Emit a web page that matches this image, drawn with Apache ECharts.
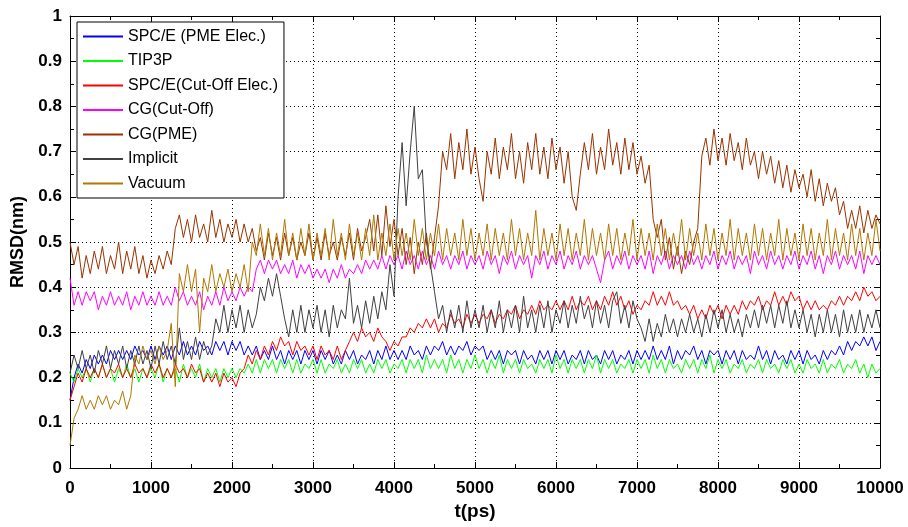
<!doctype html>
<html>
<head>
<meta charset="utf-8">
<title>RMSD</title>
<script src="https://cdn.jsdelivr.net/npm/echarts@6/dist/echarts.min.js"></script>
<style>
    html, body {margin: 0; padding: 0; background: #fff;}
    #chart {width: 908px; height: 527px;}
</style>
</head>
<body>
<div id="chart"></div>
<script type="text/javascript">
    // sampled every 50 ps, 0 .. 10000
    var STEP = 50;
    var seriesNames = ['SPC/E (PME Elec.)', 'TIP3P', 'SPC/E(Cut-Off Elec.)', 'CG(Cut-Off)', 'CG(PME)', 'Implicit', 'Vacuum'];
    var xTicks = [0, 1000, 2000, 3000, 4000, 5000, 6000, 7000, 8000, 9000, 10000];
    var yTicks = [0, 0.1, 0.2, 0.3, 0.4, 0.5, 0.6, 0.7, 0.8, 0.9, 1];

    var spcePme = [
        0.15,0.20,0.23,0.21,0.24,0.22,0.25,0.23,0.25,0.23,0.26,0.24,0.26,0.24,0.26,0.24,0.27,0.25,0.26,0.24,0.27,
        0.24,0.27,0.25,0.27,0.24,0.27,0.25,0.28,0.25,0.27,0.25,0.28,0.26,0.27,0.25,0.28,0.26,0.28,0.25,0.28,
        0.26,0.28,0.25,0.27,0.25,0.27,0.24,0.26,0.24,0.27,0.24,0.26,0.23,0.26,0.24,0.26,0.23,0.26,0.24,0.26,
        0.23,0.26,0.24,0.26,0.23,0.25,0.23,0.26,0.24,0.26,0.23,0.25,0.24,0.26,0.23,0.26,0.24,0.27,0.24,0.26,
        0.24,0.26,0.24,0.27,0.25,0.26,0.24,0.27,0.25,0.27,0.26,0.28,0.25,0.27,0.25,0.27,0.26,0.28,0.25,0.27,
        0.26,0.27,0.24,0.26,0.24,0.26,0.23,0.26,0.25,0.26,0.23,0.26,0.24,0.25,0.23,0.26,0.24,0.26,0.23,0.26,
        0.24,0.26,0.23,0.25,0.24,0.26,0.23,0.26,0.24,0.25,0.23,0.26,0.24,0.26,0.23,0.25,0.24,0.26,0.23,0.26,
        0.24,0.26,0.24,0.27,0.24,0.26,0.24,0.27,0.23,0.26,0.24,0.26,0.25,0.27,0.24,0.26,0.23,0.26,0.25,0.26,
        0.23,0.26,0.24,0.26,0.23,0.26,0.24,0.25,0.24,0.27,0.24,0.26,0.23,0.26,0.24,0.25,0.23,0.26,0.24,0.26,
        0.23,0.26,0.24,0.25,0.23,0.26,0.24,0.26,0.25,0.27,0.25,0.28,0.26,0.28,0.27,0.29,0.27,0.29,0.26,0.28
    ];
    var tip3p = [
        0.21,0.19,0.22,0.20,0.22,0.19,0.22,0.20,0.23,0.20,0.22,0.19,0.22,0.20,0.23,0.20,0.22,0.19,0.22,0.20,0.22,
        0.20,0.23,0.19,0.22,0.20,0.22,0.19,0.23,0.20,0.22,0.20,0.23,0.19,0.22,0.20,0.22,0.19,0.22,0.20,0.22,
        0.20,0.22,0.21,0.23,0.21,0.24,0.21,0.24,0.22,0.24,0.21,0.24,0.22,0.24,0.21,0.24,0.21,0.23,0.22,0.24,
        0.21,0.24,0.21,0.23,0.22,0.24,0.21,0.23,0.21,0.24,0.22,0.24,0.21,0.23,0.21,0.24,0.22,0.24,0.21,0.23,
        0.22,0.24,0.21,0.24,0.22,0.24,0.21,0.25,0.22,0.24,0.22,0.24,0.21,0.25,0.22,0.24,0.21,0.24,0.22,0.25,
        0.22,0.24,0.21,0.24,0.22,0.25,0.21,0.24,0.22,0.24,0.21,0.24,0.22,0.23,0.21,0.24,0.22,0.24,0.21,0.25,
        0.22,0.24,0.21,0.24,0.22,0.24,0.21,0.24,0.22,0.25,0.21,0.24,0.22,0.24,0.21,0.23,0.22,0.24,0.21,0.24,
        0.22,0.24,0.21,0.25,0.22,0.24,0.21,0.24,0.22,0.23,0.21,0.24,0.22,0.24,0.21,0.24,0.22,0.25,0.21,0.24,
        0.22,0.24,0.21,0.23,0.22,0.24,0.21,0.23,0.22,0.24,0.21,0.24,0.22,0.23,0.21,0.24,0.22,0.24,0.21,0.23,
        0.21,0.24,0.22,0.23,0.21,0.24,0.21,0.23,0.22,0.24,0.21,0.23,0.22,0.24,0.21,0.23,0.20,0.23,0.21,0.22
    ];
    var spceCut = [
        0.15,0.18,0.21,0.19,0.22,0.20,0.22,0.20,0.23,0.20,0.22,0.21,0.23,0.20,0.22,0.20,0.23,0.21,0.22,0.20,0.23,
        0.21,0.23,0.20,0.22,0.20,0.23,0.21,0.22,0.20,0.23,0.21,0.22,0.19,0.21,0.19,0.21,0.18,0.21,0.19,0.20,
        0.18,0.21,0.22,0.25,0.23,0.26,0.24,0.27,0.25,0.28,0.26,0.29,0.27,0.28,0.25,0.28,0.26,0.27,0.25,0.27,
        0.24,0.27,0.25,0.26,0.24,0.27,0.24,0.26,0.28,0.30,0.28,0.31,0.29,0.30,0.28,0.31,0.29,0.28,0.26,0.28,
        0.27,0.29,0.29,0.31,0.30,0.32,0.31,0.33,0.31,0.33,0.30,0.32,0.31,0.34,0.32,0.33,0.31,0.34,0.32,0.34,
        0.32,0.34,0.33,0.35,0.32,0.34,0.33,0.35,0.34,0.36,0.33,0.35,0.34,0.36,0.34,0.37,0.35,0.36,0.35,0.37,
        0.35,0.37,0.35,0.38,0.35,0.37,0.36,0.38,0.35,0.37,0.35,0.38,0.36,0.39,0.36,0.38,0.35,0.37,0.34,0.36,
        0.35,0.37,0.36,0.39,0.36,0.38,0.36,0.39,0.36,0.37,0.35,0.36,0.34,0.36,0.33,0.35,0.33,0.36,0.34,0.36,
        0.33,0.36,0.34,0.36,0.34,0.37,0.35,0.37,0.36,0.38,0.35,0.37,0.36,0.39,0.36,0.38,0.36,0.39,0.37,0.38,
        0.35,0.37,0.35,0.37,0.35,0.36,0.35,0.37,0.36,0.38,0.36,0.38,0.37,0.39,0.37,0.40,0.38,0.39,0.37,0.38
    ];
    var cgCut = [
        0.42,0.36,0.39,0.36,0.39,0.37,0.39,0.35,0.38,0.36,0.39,0.36,0.38,0.36,0.39,0.35,0.38,0.36,0.39,0.36,0.38,
        0.36,0.39,0.36,0.38,0.36,0.40,0.37,0.39,0.36,0.38,0.36,0.39,0.35,0.38,0.36,0.39,0.36,0.40,0.37,0.39,
        0.37,0.40,0.38,0.40,0.39,0.44,0.46,0.43,0.46,0.44,0.46,0.43,0.45,0.43,0.46,0.42,0.45,0.43,0.45,0.42,
        0.44,0.42,0.44,0.41,0.44,0.42,0.45,0.42,0.44,0.43,0.45,0.43,0.46,0.44,0.46,0.44,0.47,0.44,0.47,0.45,
        0.47,0.44,0.48,0.45,0.47,0.44,0.48,0.45,0.47,0.44,0.48,0.45,0.47,0.44,0.47,0.45,0.48,0.44,0.47,0.45,
        0.47,0.44,0.48,0.45,0.47,0.43,0.47,0.45,0.48,0.44,0.47,0.45,0.47,0.42,0.47,0.45,0.48,0.44,0.47,0.45,
        0.48,0.44,0.47,0.45,0.48,0.44,0.47,0.45,0.47,0.44,0.41,0.46,0.48,0.44,0.47,0.45,0.48,0.44,0.47,0.45,
        0.47,0.44,0.48,0.43,0.47,0.45,0.48,0.44,0.47,0.45,0.47,0.44,0.48,0.45,0.47,0.44,0.47,0.45,0.48,0.44,
        0.47,0.45,0.48,0.44,0.47,0.45,0.47,0.43,0.48,0.45,0.47,0.44,0.48,0.45,0.47,0.44,0.47,0.45,0.48,0.44,
        0.47,0.45,0.48,0.44,0.47,0.43,0.47,0.45,0.48,0.44,0.47,0.45,0.47,0.44,0.48,0.43,0.47,0.45,0.47,0.45
    ];
    var cgPme = [
        0.50,0.45,0.49,0.42,0.47,0.43,0.48,0.44,0.49,0.43,0.47,0.44,0.50,0.43,0.48,0.44,0.49,0.43,0.47,0.42,0.46,
        0.43,0.47,0.44,0.48,0.45,0.53,0.56,0.51,0.55,0.50,0.56,0.51,0.54,0.50,0.57,0.51,0.55,0.50,0.54,0.51,
        0.55,0.50,0.54,0.50,0.53,0.48,0.51,0.46,0.52,0.47,0.51,0.46,0.52,0.47,0.51,0.46,0.50,0.47,0.52,0.46,
        0.51,0.46,0.52,0.47,0.50,0.46,0.51,0.47,0.52,0.46,0.53,0.48,0.51,0.55,0.48,0.56,0.47,0.58,0.49,0.55,
        0.47,0.53,0.45,0.51,0.43,0.50,0.45,0.52,0.44,0.51,0.58,0.70,0.66,0.74,0.64,0.72,0.66,0.75,0.65,0.71,
        0.64,0.59,0.70,0.65,0.73,0.64,0.71,0.66,0.74,0.64,0.70,0.63,0.72,0.66,0.74,0.65,0.71,0.64,0.73,0.66,
        0.71,0.63,0.70,0.60,0.57,0.65,0.72,0.66,0.74,0.65,0.71,0.66,0.75,0.67,0.72,0.65,0.73,0.66,0.72,0.65,
        0.69,0.63,0.67,0.55,0.51,0.55,0.46,0.51,0.44,0.49,0.43,0.48,0.45,0.50,0.53,0.69,0.73,0.67,0.75,0.68,
        0.73,0.67,0.74,0.68,0.72,0.66,0.73,0.67,0.70,0.64,0.70,0.65,0.69,0.63,0.68,0.62,0.67,0.61,0.66,0.62,
        0.65,0.60,0.66,0.59,0.64,0.58,0.63,0.59,0.62,0.56,0.59,0.53,0.57,0.53,0.58,0.52,0.57,0.53,0.56,0.54
    ];
    var implicit = [
        0.21,0.25,0.22,0.26,0.22,0.25,0.21,0.26,0.23,0.27,0.22,0.26,0.23,0.27,0.22,0.26,0.23,0.27,0.23,0.26,0.22,
        0.27,0.23,0.28,0.24,0.27,0.23,0.31,0.24,0.28,0.24,0.29,0.24,0.28,0.25,0.27,0.33,0.30,0.36,0.30,0.35,
        0.31,0.36,0.30,0.35,0.31,0.34,0.40,0.37,0.42,0.38,0.43,0.38,0.33,0.29,0.35,0.30,0.36,0.30,0.35,0.31,
        0.36,0.30,0.35,0.29,0.36,0.31,0.35,0.33,0.42,0.32,0.36,0.31,0.37,0.32,0.38,0.33,0.39,0.35,0.45,0.38,
        0.60,0.72,0.58,0.70,0.80,0.64,0.66,0.50,0.45,0.39,0.33,0.36,0.30,0.35,0.31,0.36,0.30,0.37,0.31,0.35,
        0.31,0.36,0.30,0.35,0.31,0.37,0.30,0.35,0.31,0.36,0.30,0.38,0.31,0.35,0.30,0.36,0.31,0.37,0.30,0.35,
        0.32,0.37,0.31,0.36,0.32,0.38,0.33,0.36,0.31,0.37,0.32,0.36,0.31,0.37,0.39,0.32,0.36,0.31,0.37,0.33,
        0.31,0.28,0.33,0.28,0.32,0.29,0.34,0.30,0.33,0.29,0.33,0.30,0.34,0.30,0.33,0.29,0.34,0.30,0.35,0.31,
        0.35,0.30,0.34,0.30,0.33,0.29,0.34,0.31,0.35,0.31,0.36,0.32,0.36,0.31,0.36,0.32,0.37,0.31,0.35,0.31,
        0.35,0.30,0.34,0.29,0.34,0.30,0.35,0.30,0.34,0.29,0.35,0.30,0.34,0.30,0.35,0.30,0.34,0.31,0.35,0.31
    ];
    var vacuum = [
        0.05,0.11,0.13,0.16,0.13,0.15,0.13,0.16,0.14,0.16,0.13,0.15,0.14,0.17,0.13,0.16,0.25,0.23,0.27,0.24,0.26,
        0.23,0.27,0.24,0.26,0.32,0.18,0.43,0.39,0.45,0.39,0.44,0.30,0.42,0.39,0.45,0.39,0.43,0.40,0.44,0.39,
        0.43,0.40,0.45,0.39,0.50,0.47,0.54,0.47,0.53,0.46,0.52,0.47,0.55,0.47,0.52,0.46,0.53,0.47,0.54,0.46,
        0.52,0.47,0.53,0.46,0.55,0.47,0.52,0.46,0.54,0.47,0.52,0.46,0.53,0.47,0.56,0.46,0.52,0.47,0.54,0.46,
        0.53,0.47,0.52,0.46,0.55,0.47,0.53,0.46,0.52,0.47,0.54,0.46,0.53,0.47,0.52,0.46,0.55,0.47,0.53,0.46,
        0.52,0.47,0.54,0.46,0.53,0.47,0.52,0.46,0.55,0.47,0.53,0.46,0.52,0.47,0.57,0.46,0.53,0.47,0.52,0.46,
        0.54,0.47,0.53,0.46,0.52,0.47,0.55,0.46,0.53,0.47,0.52,0.46,0.54,0.47,0.53,0.46,0.52,0.47,0.55,0.46,
        0.53,0.47,0.52,0.46,0.54,0.47,0.53,0.46,0.52,0.47,0.55,0.46,0.53,0.47,0.52,0.46,0.54,0.47,0.53,0.46,
        0.52,0.47,0.55,0.46,0.53,0.47,0.52,0.46,0.54,0.47,0.53,0.46,0.52,0.47,0.55,0.46,0.53,0.47,0.52,0.46,
        0.54,0.47,0.53,0.46,0.52,0.47,0.55,0.46,0.53,0.47,0.52,0.46,0.54,0.47,0.53,0.46,0.52,0.47,0.55,0.48
    ];

    var allValues = [spcePme, tip3p, spceCut, cgCut, cgPme, implicit, vacuum];
    var colors = ['#0000ff', '#00ff00', '#ff0000', '#ff00ff', '#993300', '#404040', '#b07800'];

    function pairs(vals) {
        var out = [];
        for (var i = 0; i < vals.length; i++) {
            out.push([i * STEP, vals[i]]);
        }
        return out;
    }

    var font = 'Liberation Sans';
    var series = [];
    for (var k = 0; k < seriesNames.length; k++) {
        series.push({
            name: seriesNames[k],
            type: 'line',
            data: pairs(allValues[k]),
            symbol: 'none',
            silent: true,
            lineStyle: {color: colors[k], width: 1},
            itemStyle: {color: colors[k]}
        });
    }

    var tickStyle = {show: true, inside: true, length: 6, lineStyle: {color: '#000'}};
    var minorStyle = {show: true, splitNumber: 2, length: 4, lineStyle: {color: '#000'}};
    var gridLine = {show: true, lineStyle: {color: '#000', type: [1, 3], width: 1}};

    var myChart = echarts.init(document.getElementById('chart'));
    var option = {
        animation: false,
        backgroundColor: '#fff',
        grid: {left: 70, right: 28, top: 16, bottom: 59},
        legend: {
            orient: 'vertical',
            left: 77,
            top: 22,
            padding: [6, 6, 6, 6],
            icon: 'rect',
            itemWidth: 40,
            itemHeight: 2,
            itemGap: 7.5,
            backgroundColor: '#fff',
            borderColor: '#000',
            borderWidth: 1,
            borderRadius: 0,
            data: seriesNames,
            textStyle: {fontFamily: font, fontSize: 16, lineHeight: 17, color: '#000'}
        },
        xAxis: [
            {
                type: 'value', position: 'bottom', min: 0, max: 10000, interval: 1000,
                axisLine: {show: true, lineStyle: {color: '#000'}},
                axisTick: tickStyle, minorTick: minorStyle,
                splitLine: gridLine,
                axisLabel: {
                    margin: 12, color: '#000', fontFamily: font, fontWeight: 'bold', fontSize: 17,
                    formatter: function (v) { return xTicks.indexOf(v) >= 0 ? String(v) : ''; }
                },
                name: 't(ps)', nameLocation: 'middle', nameGap: 30,
                nameTextStyle: {color: '#000', fontFamily: font, fontWeight: 'bold', fontSize: 19, verticalAlign: 'top'}
            },
            {
                type: 'value', position: 'top', min: 0, max: 10000, interval: 1000,
                axisLine: {show: true, onZero: false, lineStyle: {color: '#000'}},
                axisTick: tickStyle, minorTick: minorStyle,
                splitLine: {show: false}, axisLabel: {show: false}
            }
        ],
        yAxis: [
            {
                type: 'value', position: 'left', min: 0, max: 1, interval: 0.1,
                axisLine: {show: true, lineStyle: {color: '#000'}},
                axisTick: tickStyle, minorTick: minorStyle,
                splitLine: gridLine,
                axisLabel: {
                    margin: 8, color: '#000', fontFamily: font, fontWeight: 'bold', fontSize: 17,
                    formatter: function (v) {
                        var r = Math.round(v * 10) / 10;
                        return yTicks.indexOf(r) >= 0 ? String(r) : '';
                    }
                },
                name: 'RMSD(nm)', nameLocation: 'middle', nameGap: 36,
                nameTextStyle: {color: '#000', fontFamily: font, fontWeight: 'bold', fontSize: 18}
            },
            {
                type: 'value', position: 'right', min: 0, max: 1, interval: 0.1,
                axisLine: {show: true, onZero: false, lineStyle: {color: '#000'}},
                axisTick: tickStyle, minorTick: minorStyle,
                splitLine: {show: false}, axisLabel: {show: false}
            }
        ],
        series: series
    };
    myChart.setOption(option);
</script>
</body>
</html>
